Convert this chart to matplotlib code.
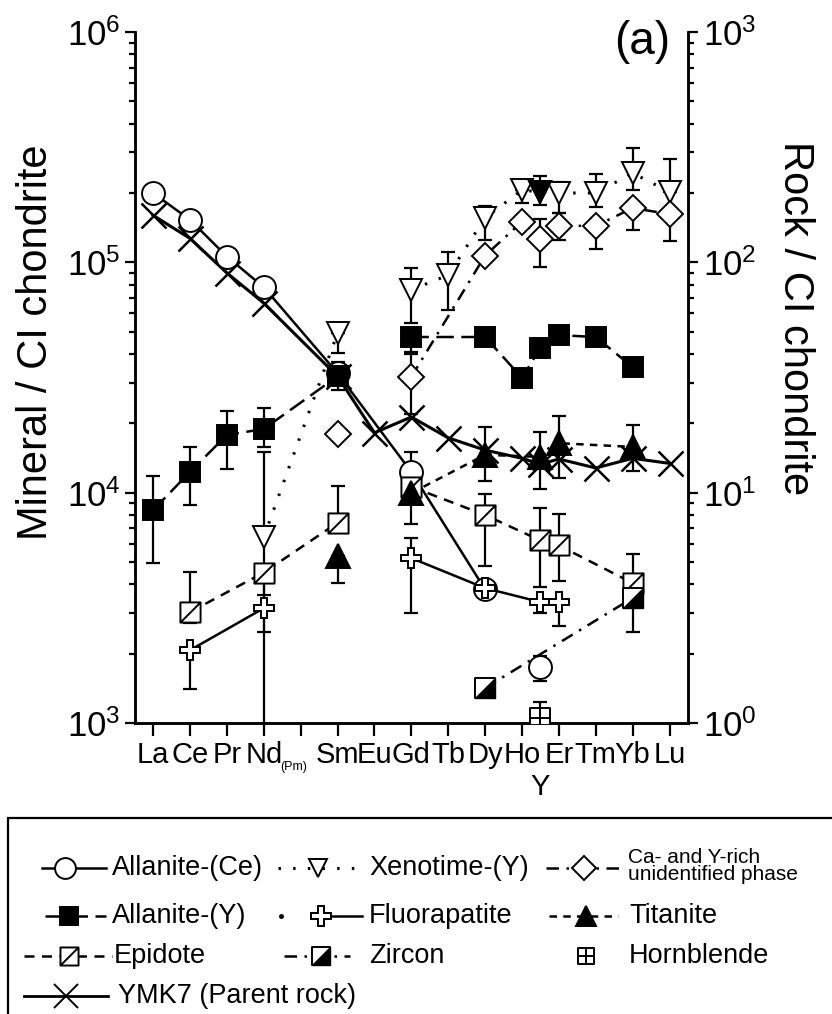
import numpy as np
import matplotlib
matplotlib.use("Agg")
import matplotlib.pyplot as plt
from matplotlib.path import Path
from matplotlib.lines import Line2D
from matplotlib.patches import Rectangle
from matplotlib.ticker import LogLocator, NullFormatter
from matplotlib import font_manager

nan = np.nan

# ---------------- data ----------------
elements = ['La', 'Ce', 'Pr', 'Nd', 'Pm', 'Sm', 'Eu', 'Gd', 'Tb', 'Dy', 'Ho', 'Er', 'Tm', 'Yb', 'Lu']
tick_labels = ['La', 'Ce', 'Pr', 'Nd', '', 'Sm', 'Eu', 'Gd', 'Tb', 'Dy', 'Ho', 'Er', 'Tm', 'Yb', 'Lu']
y_position = 10.5  # Y plotted between Ho and Er

alnce_el = ['La', 'Ce', 'Pr', 'Nd', 'Sm', 'Gd', 'Dy']
alnce_val = [2.0e5, 1.53e5, 1.06e5, 7.8e4, 3.3e4, 1.23e4, 3.8e3]
alnce_lo = [nan, nan, nan, nan, nan, nan, nan]
alnce_hi = [nan, nan, nan, nan, nan, 1.5e4, nan]
alnce_y_val = [1.75e3]
alnce_y_lo = [1.52e3]
alnce_y_hi = [1.95e3]

alny_el = ['La', 'Ce', 'Pr', 'Nd', 'Sm', 'Gd', 'Dy', 'Ho', 'Y', 'Er', 'Tm', 'Yb']
alny_val = [8.4e3, 1.23e4, 1.78e4, 1.89e4, 3.2e4, 4.74e4, 4.74e4, 3.15e4, 4.25e4, 4.83e4, 4.74e4, 3.51e4]
alny_lo = [4.94e3, 8.8e3, 1.27e4, 1.58e4, 2.79e4, 4.1e4, nan, nan, nan, nan, nan, nan]
alny_hi = [1.18e4, 1.58e4, 2.26e4, 2.33e4, 3.69e4, nan, nan, nan, nan, nan, nan, nan]
alny_breaks = ['Sm']

xen_el = ['Nd', 'Sm', 'Gd', 'Tb', 'Dy', 'Ho', 'Y', 'Er', 'Tm', 'Yb', 'Lu']
xen_val = [6.4e3, 4.93e4, 7.6e4, 8.8e4, 1.56e5, 2.06e5, 2.02e5, 2.0e5, 2.0e5, 2.44e5, 2.02e5]
xen_lo = [5.0e2, 4.04e4, 5.45e4, 6.2e4, 1.25e5, 1.81e5, 1.77e5, 1.64e5, 1.74e5, 2.06e5, nan]
xen_hi = [1.5e4, nan, 9.45e4, 1.11e5, 1.75e5, nan, 2.37e5, 2.23e5, 2.42e5, 3.13e5, 2.81e5]
xen_filled = ['Y']
xen_breaks = ['Sm']

cay_el = ['Sm', 'Gd', 'Dy', 'Ho', 'Y', 'Er', 'Tm', 'Yb', 'Lu']
cay_val = [1.8e4, 3.18e4, 1.07e5, 1.5e5, 1.26e5, 1.44e5, 1.44e5, 1.72e5, 1.62e5]
cay_lo = [nan, 2.2e4, nan, nan, 9.5e4, 1.25e5, 1.14e5, 1.38e5, 1.24e5]
cay_hi = [nan, 4.0e4, nan, nan, 1.54e5, 1.64e5, nan, nan, nan]
cay_breaks = ['Sm']

fap_el = ['Ce', 'Nd', 'Gd', 'Dy', 'Y', 'Er']
fap_val = [2.07e3, 3.15e3, 5.2e3, 3.85e3, 3.35e3, 3.35e3]
fap_lo = [1.4e3, 2.48e3, 3.0e3, nan, 3.0e3, 2.64e3]
fap_hi = [nan, nan, 6.35e3, nan, nan, nan]
fap_breaks = ['Nd']

ttn_el = ['Sm', 'Gd', 'Dy', 'Y', 'Er', 'Yb']
ttn_val = [5.3e3, 9.96e3, 1.46e4, 1.43e4, 1.64e4, 1.58e4]
ttn_lo = [4.05e3, 7.3e3, 1.12e4, 1.04e4, 1.16e4, 1.24e4]
ttn_hi = [nan, nan, 1.93e4, 1.83e4, 2.15e4, 1.97e4]
ttn_breaks = ['Sm']

ep_el = ['Ce', 'Nd', 'Sm', 'Gd', 'Dy', 'Y', 'Er', 'Yb']
ep_val = [3.03e3, 4.5e3, 7.4e3, 1.06e4, 8.0e3, 6.2e3, 5.9e3, 4.05e3]
ep_lo = [2.72e3, 3.6e3, nan, nan, 4.8e3, 3.9e3, 4.13e3, 2.48e3]
ep_hi = [4.52e3, nan, 1.07e4, nan, 9.86e3, 8.57e3, 8.1e3, 5.4e3]
ep_breaks = ['Sm']

zrn_el = ['Dy', 'Yb']
zrn_val = [1.42e3, 3.49e3]

hbl_el = ['Y']
hbl_val = [1.05e3]
hbl_lo = [nan]
hbl_hi = [1.23e3]

rock_el = ['La', 'Ce', 'Pr', 'Nd', 'Sm', 'Eu', 'Gd', 'Tb', 'Dy', 'Ho', 'Y', 'Er', 'Tm', 'Yb', 'Lu']
rock_val = [160, 127, 90, 66.5, 32, 18.2, 21.3, 17.3, 15.3, 14.1, 13.3, 14.0, 12.8, 14.1, 13.4]

# ---------------- style ----------------
names = {f.name for f in font_manager.fontManager.ttflist}
NARROW = 'Liberation Sans Narrow' in names
plt.rcParams['font.family'] = ['Liberation Sans', 'DejaVu Sans']
plt.rcParams['mathtext.fontset'] = 'custom'
plt.rcParams['mathtext.rm'] = 'Liberation Sans'
plt.rcParams['mathtext.it'] = 'Liberation Sans:italic'
plt.rcParams['mathtext.bf'] = 'Liberation Sans:bold'
leg_family = ['Liberation Sans Narrow', 'Liberation Sans'] if NARROW else ['Liberation Sans']
leg_fs = 23 if NARROW else 19.5
leg_fs_small = 18 if NARROW else 15

POS = {e: i for i, e in enumerate(elements)}
POS['Y'] = y_position

sq = [(-1, -1), (1, -1), (1, 1), (-1, 1), (-1, -1)]
sq_codes = [Path.MOVETO, Path.LINETO, Path.LINETO, Path.LINETO, Path.CLOSEPOLY]
m_square = Path(sq, sq_codes)
m_epidote = Path(sq + [(-1, -1), (1, 1)], sq_codes + [Path.MOVETO, Path.LINETO])
m_zrn_tri = Path([(-1, -1), (1, -1), (1, 1), (-1, -1)],
                 [Path.MOVETO, Path.LINETO, Path.LINETO, Path.CLOSEPOLY])
m_hbl = Path(sq + [(0, -1), (0, 1), (-1, 0), (1, 0)],
             sq_codes + [Path.MOVETO, Path.LINETO, Path.MOVETO, Path.LINETO])

LS_ALNY = (0, (7, 3))
LS_XEN = (0, (0.8, 4))
LS_CAY = (0, (5, 3, 1, 3))
LS_TTN = (0, (3, 2.5))
LS_EP = (0, (4, 3))
LS_ZRN = (0, (5, 3, 1, 3))

W, H = 832, 1014
def fx(x):
    return x / W
def fy(y):
    return 1 - y / H

fig = plt.figure(figsize=(W / 100, H / 100), dpi=100)
ax = fig.add_axes([fx(135), fy(723), fx(688) - fx(135), fy(32) - fy(723)])
ax2 = ax.twinx()
ax.set_zorder(ax2.get_zorder() + 1)
ax.patch.set_visible(False)

ax.set_yscale('log')
ax.set_ylim(1e3, 1e6)
ax2.set_yscale('log')
ax2.set_ylim(1, 1e3)
ax.set_xlim(-0.49, 14.5)


def draw(axis, els, vals, lo=None, hi=None, ls='-', marker='o', ms=15, mfc='white',
         lw=1.8, z=3, mew=1.4, breaks=()):
    x = np.array([POS[e] for e in els], float)
    v = np.array(vals, float)
    if lo is not None:
        lo = np.array(lo, float)
        hi = np.array(hi, float)
        m = ~(np.isnan(lo) & np.isnan(hi))
        if m.any():
            el = np.where(np.isnan(lo), 0, v - lo)[m]
            eh = np.where(np.isnan(hi), 0, hi - v)[m]
            axis.errorbar(x[m], v[m], yerr=[el, eh], fmt='none', ecolor='k',
                          elinewidth=1.6, capsize=4.7, capthick=1.6, zorder=1.5)
    # line with optional breaks
    lx, lv = [], []
    for e, xi, vi in zip(els, x, v):
        lx.append(xi)
        lv.append(vi)
        if e in breaks:
            lx.append(nan)
            lv.append(nan)
    if ls != 'none':
        axis.plot(lx, lv, linestyle=ls, color='k', lw=lw, zorder=z - 0.05)
    axis.plot(x, v, ls='none', marker=marker, ms=ms, mfc=mfc, mec='k', mew=mew, zorder=z)


# YMK7 on right axis
draw(ax2, rock_el, rock_val, ls='-', marker='x', ms=18, mfc='k', lw=2.2, mew=1.8)

draw(ax, xen_el, xen_val, xen_lo, xen_hi, ls=LS_XEN, marker='v', ms=16, lw=2.2,
     breaks=xen_breaks)
fx_x = [POS[e] for e in xen_filled]
fx_v = [xen_val[xen_el.index(e)] for e in xen_filled]
ax.plot(fx_x, fx_v, ls='none', marker='v', ms=16, mfc='k', mec='k', mew=1.4, zorder=3.1)

draw(ax, cay_el, cay_val, cay_lo, cay_hi, ls=LS_CAY, marker='D', ms=13, breaks=cay_breaks)
draw(ax, alnce_el, alnce_val, alnce_lo, alnce_hi, ls='-', marker='o', ms=16.5)
draw(ax, ['Y'], alnce_y_val, alnce_y_lo, alnce_y_hi, ls='none', marker='o', ms=16.5)
draw(ax, alny_el, alny_val, alny_lo, alny_hi, ls=LS_ALNY, marker='s', ms=15, mfc='k',
     breaks=alny_breaks)
draw(ax, ep_el, ep_val, ep_lo, ep_hi, ls=LS_EP, marker=m_epidote, ms=14.5, breaks=ep_breaks)
draw(ax, ttn_el, ttn_val, ttn_lo, ttn_hi, ls=LS_TTN, marker='^', ms=17, mfc='k',
     breaks=ttn_breaks)
draw(ax, fap_el, fap_val, fap_lo, fap_hi, ls='-', marker='P', ms=15, breaks=fap_breaks)
draw(ax, zrn_el, zrn_val, ls=LS_ZRN, marker=m_square, ms=14.5)
ax.plot([POS[e] for e in zrn_el], zrn_val, ls='none', marker=m_zrn_tri, ms=14.5,
        mfc='k', mec='k', mew=1.0, zorder=3.2)
draw(ax, hbl_el, hbl_val, hbl_lo, hbl_hi, ls='none', marker=m_hbl, ms=14.5)

# ---------------- axes styling ----------------
for a in (ax, ax2):
    a.spines['top'].set_visible(False)
    for s in ('left', 'right', 'bottom'):
        a.spines[s].set_linewidth(1.8)
    a.yaxis.set_minor_locator(LogLocator(base=10, subs=np.arange(2, 10)))
    a.yaxis.set_minor_formatter(NullFormatter())

ax.tick_params(axis='y', which='major', direction='out', length=7.5, width=1.6,
               labelsize=25, pad=3, left=True, right=False)
ax.tick_params(axis='y', which='minor', direction='out', length=4, width=1.6,
               left=True, right=False)
ax2.tick_params(axis='y', which='major', direction='out', length=7.5, width=1.6,
                labelsize=25, pad=3, left=False, right=True)
ax2.tick_params(axis='y', which='minor', direction='out', length=4, width=1.6,
                left=False, right=True)

ax.set_xticks(range(len(elements)))
ax.set_xticklabels(tick_labels, fontsize=21)
ax.tick_params(axis='x', which='major', direction='out', length=9, width=1.6, pad=4)
ax.tick_params(axis='x', which='minor', bottom=False)

ax.text(3.82, -0.063, '(Pm)', fontsize=9, ha='center', va='center',
        transform=ax.get_xaxis_transform())
ax.text(y_position, -0.093, 'Y', fontsize=21, ha='center', va='center',
        transform=ax.get_xaxis_transform())

fig.text(fx(642), fy(42), '(a)', fontsize=33, ha='center', va='center')
fig.text(fx(36), fy(342), 'Mineral / CI chondrite', rotation=90, fontsize=30,
         ha='center', va='center')
fig.text(fx(795), fy(318), 'Rock / CI chondrite', rotation=270, fontsize=30,
         ha='center', va='center')

# ---------------- legend (manual) ----------------
fig.add_artist(Rectangle((fx(8), fy(1030)), fx(860) - fx(8), fy(818) - fy(1030),
                         transform=fig.transFigure, fill=False, lw=1.6, ec='k'))


def leg(x0, x1, xm, y, ls, marker, ms, mfc='white', lw=1.8, tx=None, text='',
        fs=None, extra=None):
    if ls is not None and x1 > x0:
        fig.add_artist(Line2D([fx(x0), fx(x1)], [fy(y), fy(y)], transform=fig.transFigure,
                              color='k', lw=lw, ls=ls, zorder=5))
    if marker is not None:
        fig.add_artist(Line2D([fx(xm)], [fy(y)], transform=fig.transFigure, ls='none',
                              marker=marker, ms=ms, mfc=mfc, mec='k', mew=1.4, zorder=6))
    if extra is not None:
        extra()
    if text:
        fig.text(fx(tx), fy(y), text, fontsize=fs or leg_fs, ha='left', va='center',
                 family=leg_family)


r1, r2, r3, r4 = 868, 916, 956, 996
leg(42, 106, 65, r1, '-', 'o', 15, tx=112, text='Allanite-(Ce)')
leg(45, 106, 69, r2, LS_ALNY, 's', 13, mfc='k', tx=112, text='Allanite-(Y)')
leg(24, 112, 69, r3, LS_EP, m_epidote, 13, tx=114, text='Epidote')
leg(24, 108, 66, r4, '-', 'x', 17, mfc='k', tx=118, text='YMK7 (Parent rock)', lw=2.0)

leg(278, 366, 318, r1, LS_XEN, 'v', 13, tx=369, text='Xenotime-(Y)', lw=2.2)
leg(321, 362, 321, r2, '-', 'P', 14, tx=369, text='Fluorapatite',
    extra=lambda: fig.add_artist(Line2D([fx(281)], [fy(r2)], transform=fig.transFigure,
                                        ls='none', marker='o', ms=2.5, mfc='k', mec='k')))


def zircon_tri():
    fig.add_artist(Line2D([fx(321)], [fy(r3)], transform=fig.transFigure, ls='none',
                          marker=m_zrn_tri, ms=13, mfc='k', mec='k', mew=1.0, zorder=7))


leg(284, 350, 321, r3, LS_ZRN, m_square, 13, tx=369, text='Zircon', extra=zircon_tri)

leg(546, 623, 584, r1, LS_CAY, 'D', 12, tx=626)
fig.text(fx(628), fy(r1 - 2), 'Ca- and Y-rich\nunidentified phase', fontsize=leg_fs_small,
         ha='left', va='center', family=leg_family, linespacing=0.9)
leg(549, 618, 586, r2, LS_TTN, '^', 14, mfc='k', tx=629, text='Titanite')
leg(0, 0, 586, r3, None, m_hbl, 12, tx=629, text='Hornblende')

fig.savefig('out.png', dpi=100)
